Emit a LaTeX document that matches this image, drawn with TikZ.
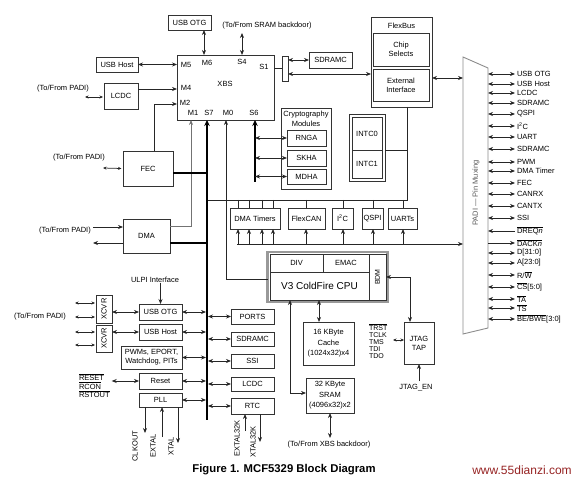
\documentclass[tikz,border=0pt]{standalone}
\usepackage{fontspec}
\setmainfont{Liberation Sans}
\usetikzlibrary{arrows.meta}
\newcommand{\ovl}[1]{\ensuremath{\overline{\hbox{#1}}}}
\begin{document}
\begin{tikzpicture}[x=1pt,y=-1pt,
  every node/.style={inner sep=0pt, outer sep=0pt, font=\fontsize{7.5}{9}\selectfont},
  box/.style={draw=black!80, line width=0.8pt, fill=white, align=center},
  ln/.style={draw=black!85, line width=0.75pt},
  hd/.tip={Stealth[length=5pt,width=4pt]},
  sm/.tip={Stealth[length=3.5pt,width=3pt]},
  bg/.tip={Stealth[length=6pt,width=5.5pt]},
  arr/.style={ln, -hd},
  rarr/.style={ln, hd-},
  dbl/.style={ln, hd-hd},
  dsm/.style={ln, sm-sm},
  bus/.style={draw=black, line width=1.8pt},
  rot/.style={rotate=90, anchor=east, font=\fontsize{7.5}{8}\selectfont}
]
\useasboundingbox (0,0) rectangle (576,481);

% ---------------- PADI pin muxing
\coordinate (padiL) at (463,0);
\coordinate (padiR) at (488,0);
\draw[draw=black!45, line width=0.9pt, fill=white] (463,57) -- (488,68) -- (488,328) -- (463,334) -- cycle;
\node[rotate=90, text=black!65] (paditxt) at (476,193) {PADI — Pin Muxing};

\foreach \y/\lab [count=\i] in {74/USB OTG, 84/USB Host, 93/LCDC, 103/SDRAMC, 114/QSPI,
   126/{I\textsuperscript{2}C}, 137/UART, 149/SDRAMC, 162/PWM, 171/DMA Timer, 183/FEC,
   194/CANRX, 206/CANTX, 218/SSI, 253/{D[31:0]}, 263/{A[23:0]}, 275/{R/\ovl{W}},
   287/{\ovl{CS}[5:0]}, 299/{\ovl{TA}}, 308/{\ovl{TS}}, 319/{\ovl{BE/BWE}[3:0]}}
  {\draw[dbl] (padiR |- 0,\y) -- (515,\y) node[anchor=west, xshift=2pt] (sig\i) {\lab};}
\draw[rarr] (padiR |- 0,231) -- (515,231) node[anchor=west, xshift=2pt] (sigdreq) {\ovl{DREQ\textit{n}}};
\draw[arr] (padiR |- 0,243) -- (515,243) node[anchor=west, xshift=2pt] (sigdack) {\ovl{DACK\textit{n}}};

% ---------------- XBS
\node[box, minimum width=97, minimum height=65] (xbs) at (225.5,87.5) {};
\node (xbst) at (225,84) {XBS};
\node (pM5) at (186,65) {M5};
\node (pM4) at (186,88) {M4};
\node (pM2) at (185,103) {M2};
\node (pM1) at (193,113) {M1};
\node (pS7) at (209,113) {S7};
\node (pM0) at (228,113) {M0};
\node (pS6) at (254,113) {S6};
\node (pM6) at (207,63) {M6};
\node (pS4) at (242,62) {S4};
\node (pS1) at (264,67) {S1};

% top row
\node[box, minimum width=43, minimum height=15] (usbotgT) at (189.5,22.5) {USB OTG};
\draw[dbl] (usbotgT.south -| 204,0) -- (xbs.north -| 204,0);
\node (sramtxt) at (267,26) {(To/From SRAM backdoor)};
\coordinate (s4end) at (242,33);
\draw[dbl] (s4end) -- (xbs.north -| s4end);

\node[box, minimum width=42, minimum height=15] (usbhostT) at (117,64.5) {USB Host};
\draw[dbl] (usbhostT.east) -- (xbs.west |- usbhostT.east);

\node[box, minimum width=34, minimum height=26] (lcdcT) at (121,96) {LCDC};
\draw[arr] (lcdcT.east |- 0,89) -- (xbs.west |- 0,89);
\node (lcdcpadi) at (63,89) {(To/From PADI)};
\coordinate (lcdcp) at (85,97);
\draw[dsm] (lcdcp) -- ([xshift=-1pt]lcdcT.west |- lcdcp);

% S1 / SDRAMC / FlexBus
\node[box, minimum width=6, minimum height=25] (s1r) at (285,68.5) {};
\draw[ln] (xbs.east |- 0,68) -- (s1r.west |- 0,68);
\node[box, minimum width=43, minimum height=16] (sdramcT) at (330.5,60) {SDRAMC};
\draw[dbl] (s1r.east |- sdramcT.west) -- (sdramcT.west);

\node[box, minimum width=61, minimum height=90] (flexbus) at (401.5,62) {};
\node (fbt) at (401.5,26) {FlexBus};
\node[box, minimum width=56, minimum height=33] (chipsel) at (401,49.5) {Chip\\Selects};
\node[box, minimum width=56, minimum height=32] (extif) at (401,85) {External\\Interface};
\draw[dbl] (s1r.east |- 0,74) -- (flexbus.west |- 0,74);
\draw[dbl] (flexbus.east |- 0,78) -- (padiL |- 0,78);

% INTC
\node[box, minimum width=36, minimum height=67] (intc) at (367,147.5) {};
\node[box, minimum width=30, minimum height=33] (intc0) at (367,133.5) {INTC0};
\node[box, minimum width=30, minimum height=28] (intc1) at (367,164) {INTC1};

% peripheral bus
\coordinate (fbbus) at (407,200);
\coordinate (s7j) at (207,200);
\coordinate (s7bot) at (207,420);
\draw[ln] (flexbus.south -| fbbus) -- (fbbus) -- (s7j);
\draw[ln] (intc.east |- 0,150) -- (fbbus |- 0,150);

% M0 to CPU
\node[draw=black!40, line width=2.5pt, minimum width=120, minimum height=50] (cpu) at (327.5,277) {};
\draw[arr] (cpu.west |- 0,279) -| (xbs.south -| 226,0);

% S7 bus
\draw[bus, bg-] (xbs.south -| s7bot) -- (s7bot);

% S6 + crypto
\node[box, minimum width=50, minimum height=81] (crypto) at (306,148.5) {};
\node[align=center, font=\fontsize{7.5}{9.5}\selectfont] (cryptot) at (306,119) {Cryptography\\Modules};
\node[box, minimum width=39, minimum height=16] (rnga) at (306.5,138) {RNGA};
\node[box, minimum width=39, minimum height=16] (skha) at (306.5,158) {SKHA};
\node[box, minimum width=39, minimum height=15] (mdha) at (306.5,176.5) {MDHA};
\coordinate (s6bot) at (255,182);
\draw[bus, bg-] (xbs.south -| s6bot) -- (s6bot);
\draw[dbl] (s6bot |- rnga.west) -- (rnga.west);
\draw[dbl] (s6bot |- skha.west) -- (skha.west);
\draw[dbl] (s6bot |- mdha.west) -- (mdha.west);

% FEC
\node[box, minimum width=50, minimum height=35] (fec) at (148,168.5) {FEC};
\draw[arr] (fec.north -| 154,0) |- (xbs.west |- 0,104);
\node (fecpadi) at (79,158) {(To/From PADI)};
\coordinate (fecp) at (103,168);
\draw[dsm] (fecp) -- ([xshift=-1.5pt]fec.west);

% DMA
\node[box, minimum width=47, minimum height=34] (dma) at (146.5,236) {DMA};
\draw[arr, draw=black!55] (dma.east |- 0,226) -| (xbs.south -| 191,0);
\draw[bus] (fec.east |- 0,173) -- (s7bot |- 0,173);
\draw[bus] (dma.east |- 0,243) -- (s7bot |- 0,243);
\node (dmapadi) at (65,231) {(To/From PADI)};
\coordinate (dmain) at (93,227);
\coordinate (dmaout) at (93,243);
\draw[arr] (dmain) -- (dma.west |- dmain);
\draw[arr] (dma.west |- dmaout) -- (dmaout);

% peripherals on bus
\node[box, minimum width=50, minimum height=21] (dmat) at (255,218.5) {DMA Timers};
\node[box, minimum width=37, minimum height=21] (flexcan) at (306.5,218.5) {FlexCAN};
\node[box, minimum width=21, minimum height=21] (iic) at (342.5,218.5) {I\textsuperscript{2}C};
\node[box, minimum width=21, minimum height=21] (qspi) at (372.5,218.5) {QSPI};
\node[box, minimum width=29, minimum height=21] (uarts) at (402.5,218.5) {UARTs};
\foreach \x in {238,249,262,273} {
  \draw[ln] (\x,200) -- (dmat.north -| \x,0);
  \draw[arr] (\x,244) -- (dmat.south -| \x,0);
}
\foreach \n/\x in {flexcan/306, iic/343, qspi/373, uarts/403} {
  \draw[ln] (\x,200) -- (\n.north -| \x,0);
  \draw[arr] (\x,244) -- (\n.south -| \x,0);
}
\coordinate (pb) at (237,244);
\draw[arr] (pb) -- (padiL |- pb);

% CPU
\node[box, minimum width=53, minimum height=18] (div) at (296.5,263) {DIV};
\node[box, minimum width=46, minimum height=18] (emac) at (346,263) {EMAC};
\node[box, minimum width=17, minimum height=46] (bdm) at (377.5,277) {};
\node[rotate=90, font=\fontsize{7}{8}\selectfont] (bdmt) at (bdm) {BDM};
\node[box, minimum width=99, minimum height=28, font=\fontsize{10}{12}\selectfont] (core) at (319.5,286) {V3 ColdFire CPU};

% cache / SRAM
\node[box, minimum width=51, minimum height=43, font=\fontsize{7.5}{10.5}\selectfont] (cache) at (328.5,343.5) {16 KByte\\Cache\\(1024x32)x4};
\draw[dbl] (core.south -| 319,0) -- (cache.north -| 319,0);
\node[box, minimum width=48, minimum height=35, font=\fontsize{7.5}{10.5}\selectfont] (sram) at (330,395.5) {32 KByte\\SRAM\\(4096x32)x2};
\draw[dbl] (core.south -| 290,0) |- (sram.west |- 0,393);
\coordinate (sramb) at (330,438);
\draw[dbl] (sram.south -| sramb) -- (sramb);
\node (xbsbd) at (329,445) {(To/From XBS backdoor)};

% JTAG
\node[box, minimum width=30, minimum height=42] (jtag) at (419,343) {JTAG\\TAP};
\draw[dbl] (bdm.east) -| (jtag.north -| 410,0);
\coordinate (jen) at (419,381);
\draw[arr] (jen) -- (jtag.south);
\node (jentxt) at (416,388) {JTAG\_EN};
\node[anchor=west, align=left, font=\fontsize{7}{7}\selectfont] (jsig) at (369,341) {\ovl{TRST}\\TCLK\\TMS\\TDI\\TDO};
\coordinate (jsa) at (393,340);
\draw[dsm] (jsa) -- (jtag.west |- jsa);

% lower right column
\node[box, minimum width=43, minimum height=15] (ports) at (252.5,316.5) {PORTS};
\node[box, minimum width=43, minimum height=14] (sdramcL) at (252.5,339) {SDRAMC};
\node[box, minimum width=43, minimum height=14] (ssi) at (252.5,361) {SSI};
\node[box, minimum width=43, minimum height=14] (lcdcL) at (252.5,384) {LCDC};
\node[box, minimum width=43, minimum height=16] (rtc) at (252.5,406) {RTC};
\foreach \n in {ports, sdramcL, ssi, lcdcL, rtc}
  \draw[dbl] ([xshift=1pt]s7bot |- \n.west) -- (\n.west);
\coordinate (ext32) at (245,431);
\coordinate (xt32) at (260,442);
\draw[arr] (ext32) -- (rtc.south -| ext32);
\draw[arr] (rtc.south -| xt32) -- (xt32);
\node[rot] (ext32t) at (237,420) {EXTAL32K};
\node[rot] (xt32t) at (253,426) {XTAL32K};

% lower left column
\node (ulpi) at (155,280) {ULPI Interface};
\node[box, minimum width=43, minimum height=16] (usbotgL) at (160.5,312) {USB OTG};
\node[box, minimum width=43, minimum height=16] (usbhostL) at (160.5,332) {USB Host};
\node[box, minimum width=61, minimum height=23] (pwm) at (151.5,357.5) {PWMs, EPORT,\\Watchdog, PITs};
\node[box, minimum width=43, minimum height=16] (reset) at (160.5,381) {Reset};
\node[box, minimum width=43, minimum height=14] (pll) at (160.5,400) {PLL};
\draw[arr] (usbotgL.north |- ulpi.south) -- (usbotgL.north);
\foreach \n in {usbotgL, usbhostL, pwm, reset, pll}
  \draw[dbl] (\n.east) -- ([xshift=-1pt]s7bot |- \n.east);

\node[box, minimum width=16, minimum height=28] (xcvr1) at (104,309) {};
\node[box, minimum width=16, minimum height=27] (xcvr2) at (104,338.5) {};
\node[rotate=90] (xc1t) at (xcvr1) {XCVR};
\node[rotate=90] (xc2t) at (xcvr2) {XCVR};
\draw[dbl] (xcvr1.east |- usbotgL.west) -- (usbotgL.west);
\draw[dbl] (xcvr2.east |- usbhostL.west) -- (usbhostL.west);
\foreach \y in {303,317,332,345} {
  \coordinate (xp\y) at (75,\y);
  \draw[dsm] (xp\y) -- ([xshift=-1pt]xcvr1.west |- xp\y);
}
\node (xcpadi) at (40,317) {(To/From PADI)};

\node[anchor=west, align=left, font=\fontsize{7.5}{8.5}\selectfont] (rstsig) at (79,385.5) {\ovl{RESET}\\\ovl{RCON}\\\ovl{RSTOUT}};
\draw[dbl] ([xshift=2pt]rstsig.east |- reset.west) -- (reset.west);

\coordinate (clko) at (145,433);
\coordinate (extl) at (162,437);
\coordinate (xtl) at (178,443);
\draw[arr] (pll.south -| clko) -- (clko);
\draw[arr] (extl) -- (pll.south -| extl);
\draw[arr] (pll.south -| xtl) -- (xtl);
\node[rot] (clkt) at (135,431) {CLKOUT};
\node[rot] (extt) at (153,434) {EXTAL};
\node[rot] (xtt) at (171,437) {XTAL};

% caption and watermark
\node[font=\bfseries\fontsize{11.3}{13}\selectfont] (title) at (284,470) {Figure 1. MCF5329 Block Diagram};
\node[font=\fontsize{12}{14}\selectfont, text={rgb,255:red,150;green,35;blue,35}] (wm) at (522,470) {www.55dianzi.com};
\end{tikzpicture}
\end{document}
